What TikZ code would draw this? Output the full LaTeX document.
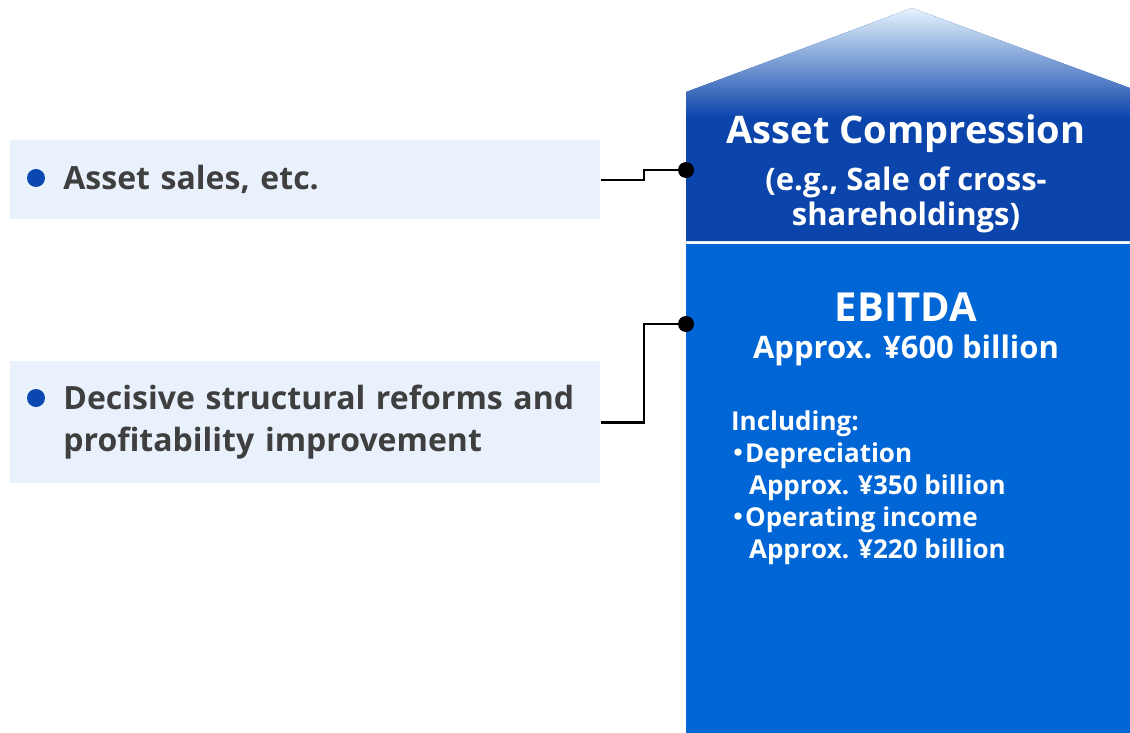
\documentclass[tikz,border=0pt]{standalone}
\usepackage{fontspec}
\setmainfont{Open Sans}
\newfontfamily\cjk{Noto Sans CJK JP}
\usetikzlibrary{positioning}
\definecolor{boxfill}{HTML}{E9F1FD}
\definecolor{dotblue}{HTML}{0A47B1}
\definecolor{roofblue}{HTML}{0B44AB}
\definecolor{roofsky}{HTML}{E6F3FC}
\definecolor{ebitblue}{HTML}{0066D6}
\definecolor{itemgray}{HTML}{3F3F3F}
\tikzset{itembox/.style = {fill=boxfill, anchor=north west, minimum width=268.5pt,
                           text width=268.5pt, inner xsep=0pt, align=left,
                           text=itemgray, font=\bfseries\fontsize{16}{21}\selectfont}}
\tikzset{link/.style = {line width=1.3pt, black}}
\tikzset{knob/.style = {circle, fill=black, inner sep=0pt, minimum size=8pt}}
\tikzset{whitetext/.style = {text=white, font=\bfseries, align=center}}
\newcommand{\jdot}{\makebox[7pt][c]{\cjk ・}}

\begin{document}
\begin{tikzpicture}[x=0.5pt, y=-0.5pt]
    \useasboundingbox (0, 0) rectangle (1130, 733);

    % left items
    \fill [boxfill] (10, 140) rectangle (64, 219);
    \fill [boxfill] (10, 361) rectangle (64, 483);
    \node [itembox, minimum height=39.5pt] (sales) at (63, 140) {Asset sales, etc.};
    \node [itembox, minimum height=61pt] (reform) at (63, 361) {Decisive structural reforms and\\profitability improvement};
    \fill [dotblue] (36, 178) circle (4.5pt);
    \fill [dotblue] (36, 398) circle (4.5pt);

    % house
    \fill [roofblue] (686, 92) -- (912, 8) -- (1130, 88) -- (1130, 241) -- (686, 241) -- cycle;
    \shade [top color=roofsky, bottom color=roofblue] (686, 118) -- (686, 92) -- (912, 8) -- (1130, 88) -- (1130, 118) -- cycle;
    \fill [ebitblue] (686, 244) rectangle (1130, 733);

    \node [whitetext, font=\bfseries\fontsize{19}{22}\selectfont] (asset) at (906, 134) {Asset Compression};
    \node [whitetext, font=\bfseries\fontsize{15.5}{17.5}\selectfont, below=0pt of asset] (cross) {(e.g., Sale of cross-\\shareholdings)};

    \node [whitetext, font=\bfseries\fontsize{20}{22}\selectfont] (ebitda) at (906, 307) {EBITDA};
    \node [whitetext, font=\bfseries\fontsize{15.5}{18}\selectfont] (total) at (906, 350) {Approx. ¥600 billion};
    \node [whitetext, align=left, anchor=north west, font=\bfseries\fontsize{13}{16}\selectfont] (detail) at (724, 404)
        {Including:\\\jdot Depreciation\\\hspace*{9pt}Approx. ¥350 billion\\\jdot Operating income\\\hspace*{9pt}Approx. ¥220 billion};

    % connectors
    \coordinate (knobA) at (686, 170);
    \coordinate (knobB) at (686, 324);
    \draw [link] (sales.east) -- ++(21.5pt, 0) |- (knobA);
    \draw [link] (reform.east) -- ++(21.5pt, 0) |- (knobB);
    \node [knob] at (knobA) {};
    \node [knob] at (knobB) {};
  \end{tikzpicture}
\end{document}
